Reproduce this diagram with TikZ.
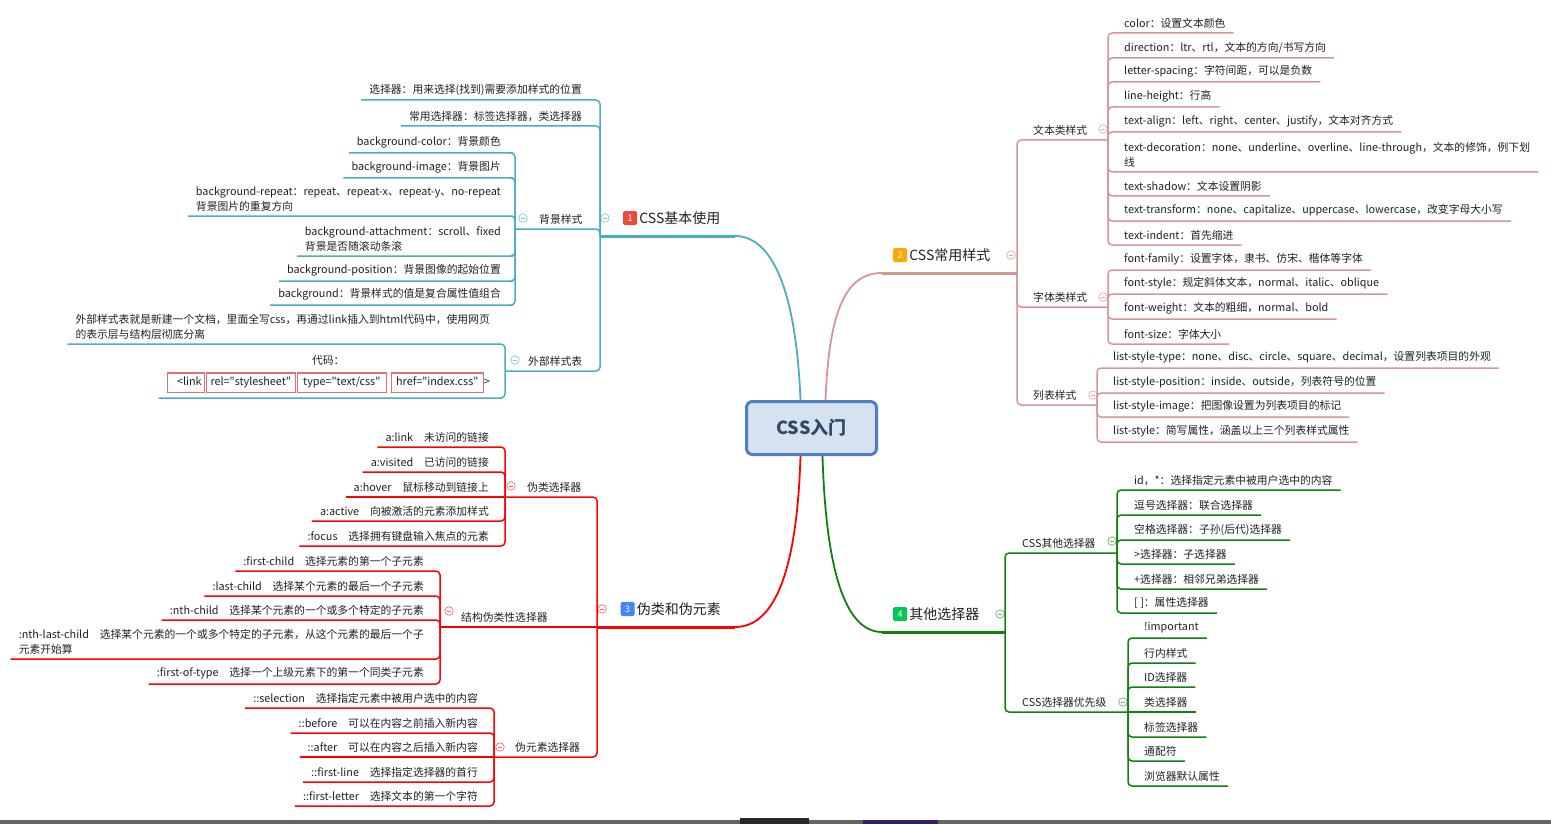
\documentclass[tikz,border=0pt]{standalone}
\usepackage{fontspec}
\setmainfont{Noto Sans CJK SC}
\usetikzlibrary{positioning}

\definecolor{br1}{RGB}{75,172,198}
\definecolor{br2}{RGB}{217,149,148}
\definecolor{br3}{RGB}{255,0,0}
\definecolor{br4}{RGB}{16,128,16}
\definecolor{bd1}{RGB}{232,76,61}
\definecolor{bd2}{RGB}{255,168,0}
\definecolor{bd3}{RGB}{66,133,244}
\definecolor{bd4}{RGB}{0,200,83}
\definecolor{rootfill}{RGB}{214,226,242}
\definecolor{rootline}{RGB}{76,126,196}
\definecolor{roottext}{RGB}{48,72,104}
\definecolor{codered}{RGB}{224,112,112}
\definecolor{inkgray}{RGB}{32,32,32}
\definecolor{bargray}{RGB}{100,100,100}
\definecolor{bardark}{RGB}{40,40,40}
\definecolor{barpurple}{RGB}{58,32,98}

% code boxes: width, alignment, text
\newcommand{\codebox}[3]{{\setlength{\fboxsep}{2pt}\setlength{\fboxrule}{1.2pt}\fcolorbox{codered}{white}{\makebox[#1][#2]{\strut #3}}}}
\newcommand{\qt}{\textquotedbl}

\tikzset{
  leafl/.style={anchor=south east, align=left, inner xsep=8pt, inner ysep=4.5pt, text=inkgray, font=\fontsize{10.8}{14.5}\selectfont},
  leafr/.style={leafl, anchor=south west},
  sublabel/.style={leafr},
  mainlabel/.style={inner sep=1pt, text=inkgray, font=\fontsize{14}{16}\selectfont},
  badge/.style={fill=#1, text=white, minimum size=14pt, inner sep=0pt, rounded corners=1.5pt, font=\fontsize{9}{9}\selectfont},
  collapse/.style={circle, draw=#1, line width=0.7pt, minimum size=8.5pt, inner sep=0pt, fill=white,
    path picture={\draw[#1, line width=0.7pt] ([xshift=2pt]path picture bounding box.west) -- ([xshift=-2pt]path picture bounding box.east);}},
  twig/.style={draw=#1, line width=1.5pt, rounded corners=4pt},
  limb/.style={draw=#1, line width=3pt},
  stem/.style={draw=#1, line width=1.8pt},
  rootbox/.style={draw=rootline, fill=rootfill, line width=3pt, rounded corners=6pt, minimum width=130pt, minimum height=53pt, text=roottext, font=\fontsize{18}{20}\selectfont\bfseries}
}

\begin{document}
\begin{tikzpicture}[x=1pt, y=-1pt]
    \useasboundingbox (0,0) rectangle (1551,824);

    % Root
    \node[rootbox] (root) at (811.5,428) {CSS入门};

    % Main topics
    \node[badge=bd1] (n1) at (630,218) {1};
    \node[mainlabel, right=1pt of n1] (m1) {CSS基本使用};
    \node[badge=bd2] (n2) at (900,255) {2};
    \node[mainlabel, right=1pt of n2] (m2) {CSS常用样式};
    \node[badge=bd3] (n3) at (627.5,609) {3};
    \node[mainlabel, right=1pt of n3] (m3) {伪类和伪元素};
    \node[badge=bd4] (n4) at (900,614) {4};
    \node[mainlabel, right=1pt of n4] (m4) {其他选择器};
    \coordinate (m1j) at (600,236);
    \coordinate (m1e) at (735,236);
    \coordinate (m2j) at (1017,273);
    \coordinate (m2s) at (882,273);
    \coordinate (m3j) at (597,627);
    \coordinate (m3e) at (735,627);
    \coordinate (m4j) at (1005,632);
    \coordinate (m4s) at (882,632);
    \draw[stem=br1] ([xshift=-11pt]root.north) .. controls (796,290) and (772,236) .. (m1e);
    \draw[stem=br2] ([xshift=14pt]root.north) .. controls (829,310) and (846,273) .. (m2s);
    \draw[stem=br3] ([xshift=-11pt]root.south) .. controls (797,570) and (775,627) .. (m3e);
    \draw[stem=br4] ([xshift=11pt]root.south) .. controls (826,570) and (845,632) .. (m4s);
    \draw[limb=br1] (m1j) -- (m1e);
    \draw[limb=br2] (m2s) -- (m2j);
    \draw[limb=br3] (m3j) -- (m3e);
    \draw[limb=br4] (m4s) -- (m4j);
    \node[collapse=br1!70] (m1x) at (605,218) {};
    \node[collapse=br2!80] (m2x) at (1011,255) {};
    \node[collapse=br3!60] (m3x) at (602,609) {};
    \node[collapse=br4!60] (m4x) at (1000,614) {};

    % 1 CSS基本使用
    \node[leafl] (a1) at (590,100) {选择器：用来选择(找到)需要添加样式的位置};
    \node[leafl] (a2) at (590,126) {常用选择器：标签选择器，类选择器};
    \node[sublabel] (a3) at (531,229) {背景样式};
    \coordinate (a3b) at (515,229);
    \node[collapse=br1!70] (a3x) at (523,218) {};
    \node[leafl] (a31) at (509,153) {background-color：背景颜色};
    \node[leafl] (a32) at (509,178) {background-image：背景图片};
    \node[leafl] (a33) at (509,216) {background-repeat：repeat、repeat-x、repeat-y、no-repeat\\背景图片的重复方向};
    \node[leafl] (a34) at (509,256) {background-attachment：scroll、fixed\\背景是否随滚动条滚};
    \node[leafl] (a35) at (509,281) {background-position：背景图像的起始位置};
    \node[leafl] (a36) at (509,305) {background：背景样式的值是复合属性值组合};
    \node[sublabel] (a4) at (520,371) {外部样式表};
    \coordinate (a4b) at (505,371);
    \node[collapse=br1!70] (a4x) at (515,360) {};
    \node[leafl] (a41) at (498,344) {外部样式表就是新建一个文档，里面全写css，再通过link插入到html代码中，使用网页\\的表示层与结构层彻底分离};
    \node[leafl, align=center] (a42) at (498,398) {代码：\\[7pt]\codebox{31.6pt}{r}{<link}\hspace{1pt}\codebox{83.6pt}{c}{rel=\qt stylesheet\qt}\hspace{1pt}\codebox{83.6pt}{c}{type=\qt text/css\qt}\hspace{4pt}\codebox{86.6pt}{c}{href=\qt index.css\qt}>};
    \draw[twig=br1] (m1j) |- (a1.south east) -- (a1.south west);
    \draw[twig=br1] (m1j) |- (a2.south east) -- (a2.south west);
    \draw[twig=br1] (m1j) |- (a3b);
    \draw[twig=br1] (m1j) |- (a4b);
    \draw[twig=br1] (a3b) |- (a31.south east) -- (a31.south west);
    \draw[twig=br1] (a3b) |- (a32.south east) -- (a32.south west);
    \draw[twig=br1] (a3b) |- (a33.south east) -- (a33.south west);
    \draw[twig=br1] (a3b) |- (a34.south east) -- (a34.south west);
    \draw[twig=br1] (a3b) |- (a35.south east) -- (a35.south west);
    \draw[twig=br1] (a3b) |- (a36.south east) -- (a36.south west);
    \draw[twig=br1] (a4b) |- (a41.south east) -- (a41.south west);
    \draw[twig=br1] (a4b) |- (a42.south east) -- (a42.south west);

    % 2 CSS常用样式
    \node[sublabel] (b1) at (1025,140) {文本类样式};
    \coordinate (b1b) at (1108,140);
    \node[collapse=br2!80] (b1x) at (1103,129) {};
    \node[leafr] (b11) at (1116,33) {color：设置文本颜色};
    \node[leafr] (b12) at (1116,58) {direction：ltr、rtl，文本的方向/书写方向};
    \node[leafr] (b13) at (1116,82) {letter-spacing：字符间距，可以是负数};
    \node[leafr] (b14) at (1116,107) {line-height：行高};
    \node[leafr] (b15) at (1116,132) {text-align：left、right、center、justify，文本对齐方式};
    \node[leafr] (b16) at (1116,172) {text-decoration：none、underline、overline、line-through，文本的修饰，例下划\\线};
    \node[leafr] (b17) at (1116,196) {text-shadow：文本设置阴影};
    \node[leafr] (b18) at (1116,221) {text-transform：none、capitalize、uppercase、lowercase，改变字母大小写};
    \node[leafr] (b19) at (1116,245) {text-indent：首先缩进};
    \node[sublabel] (b2) at (1025,307) {字体类样式};
    \coordinate (b2b) at (1108,307);
    \node[collapse=br2!80] (b2x) at (1103,297) {};
    \node[leafr] (b21) at (1116,270) {font-family：设置字体，隶书、仿宋、楷体等字体};
    \node[leafr] (b22) at (1116,294) {font-style：规定斜体文本，normal、italic、oblique};
    \node[leafr] (b23) at (1116,319) {font-weight：文本的粗细，normal、bold};
    \node[leafr] (b24) at (1116,344) {font-size：字体大小};
    \node[sublabel] (b3) at (1025,405) {列表样式};
    \coordinate (b3b) at (1097,405);
    \node[collapse=br2!80] (b3x) at (1093,395) {};
    \node[leafr] (b31) at (1105,368) {list-style-type：none、disc、circle、square、decimal，设置列表项目的外观};
    \node[leafr] (b32) at (1105,393) {list-style-position：inside、outside，列表符号的位置};
    \node[leafr] (b33) at (1105,417) {list-style-image：把图像设置为列表项目的标记};
    \node[leafr] (b34) at (1105,442) {list-style：简写属性，涵盖以上三个列表样式属性};
    \draw[twig=br2] (m2j) |- (b1b);
    \draw[twig=br2] (m2j) |- (b2b);
    \draw[twig=br2] (m2j) |- (b3b);
    \draw[twig=br2] (b1b) |- (b11.south west) -- (b11.south east);
    \draw[twig=br2] (b1b) |- (b12.south west) -- (b12.south east);
    \draw[twig=br2] (b1b) |- (b13.south west) -- (b13.south east);
    \draw[twig=br2] (b1b) |- (b14.south west) -- (b14.south east);
    \draw[twig=br2] (b1b) |- (b15.south west) -- (b15.south east);
    \draw[twig=br2] (b1b) |- (b16.south west) -- (b16.south east);
    \draw[twig=br2] (b1b) |- (b17.south west) -- (b17.south east);
    \draw[twig=br2] (b1b) |- (b18.south west) -- (b18.south east);
    \draw[twig=br2] (b1b) |- (b19.south west) -- (b19.south east);
    \draw[twig=br2] (b2b) |- (b21.south west) -- (b21.south east);
    \draw[twig=br2] (b2b) |- (b22.south west) -- (b22.south east);
    \draw[twig=br2] (b2b) |- (b23.south west) -- (b23.south east);
    \draw[twig=br2] (b2b) |- (b24.south west) -- (b24.south east);
    \draw[twig=br2] (b3b) |- (b31.south west) -- (b31.south east);
    \draw[twig=br2] (b3b) |- (b32.south west) -- (b32.south east);
    \draw[twig=br2] (b3b) |- (b33.south west) -- (b33.south east);
    \draw[twig=br2] (b3b) |- (b34.south west) -- (b34.south east);

    % 3 伪类和伪元素
    \node[sublabel] (d1) at (519,497) {伪类选择器};
    \coordinate (d1b) at (505,497);
    \node[collapse=br3!60] (d1x) at (511,486) {};
    \node[leafl] (d11) at (497,447) {a:link\quad 未访问的链接};
    \node[leafl] (d12) at (497,472) {a:visited\quad 已访问的链接};
    \node[leafl] (d13) at (497,497) {a:hover\quad 鼠标移动到链接上};
    \node[leafl] (d14) at (497,521) {a:active\quad 向被激活的元素添加样式};
    \node[leafl] (d15) at (497,546) {:focus\quad 选择拥有键盘输入焦点的元素};
    \node[sublabel] (d2) at (453,627) {结构伪类性选择器};
    \coordinate (d2b) at (440,627);
    \node[collapse=br3!60] (d2x) at (449,611) {};
    \node[leafl] (d21) at (432,571) {:first-child\quad 选择元素的第一个子元素};
    \node[leafl] (d22) at (432,596) {:last-child\quad 选择某个元素的最后一个子元素};
    \node[leafl] (d23) at (432,620) {:nth-child\quad 选择某个元素的一个或多个特定的子元素};
    \node[leafl] (d24) at (432,659) {:nth-last-child\quad 选择某个元素的一个或多个特定的子元素，从这个元素的最后一个子\\元素开始算};
    \node[leafl] (d25) at (432,684) {:first-of-type\quad 选择一个上级元素下的第一个同类子元素};
    \node[sublabel] (d3) at (507,757) {伪元素选择器};
    \coordinate (d3b) at (494,757);
    \node[collapse=br3!60] (d3x) at (500,747) {};
    \node[leafl] (d31) at (486,708) {::selection\quad 选择指定元素中被用户选中的内容};
    \node[leafl] (d32) at (486,733) {::before\quad 可以在内容之前插入新内容};
    \node[leafl] (d33) at (486,757) {::after\quad 可以在内容之后插入新内容};
    \node[leafl] (d34) at (486,782) {::first-line\quad 选择指定选择器的首行};
    \node[leafl] (d35) at (486,806) {::first-letter\quad 选择文本的第一个字符};
    \draw[twig=br3] (m3j) |- (d1b);
    \draw[twig=br3] (m3j) -- (d2b);
    \draw[twig=br3] (m3j) |- (d3b);
    \draw[twig=br3] (d1b) |- (d11.south east) -- (d11.south west);
    \draw[twig=br3] (d1b) |- (d12.south east) -- (d12.south west);
    \draw[twig=br3] (d1b) -- (d13.south east) -- (d13.south west);
    \draw[twig=br3] (d1b) |- (d14.south east) -- (d14.south west);
    \draw[twig=br3] (d1b) |- (d15.south east) -- (d15.south west);
    \draw[twig=br3] (d2b) |- (d21.south east) -- (d21.south west);
    \draw[twig=br3] (d2b) |- (d22.south east) -- (d22.south west);
    \draw[twig=br3] (d2b) |- (d23.south east) -- (d23.south west);
    \draw[twig=br3] (d2b) |- (d24.south east) -- (d24.south west);
    \draw[twig=br3] (d2b) |- (d25.south east) -- (d25.south west);
    \draw[twig=br3] (d3b) |- (d31.south east) -- (d31.south west);
    \draw[twig=br3] (d3b) |- (d32.south east) -- (d32.south west);
    \draw[twig=br3] (d3b) -- (d33.south east) -- (d33.south west);
    \draw[twig=br3] (d3b) |- (d34.south east) -- (d34.south west);
    \draw[twig=br3] (d3b) |- (d35.south east) -- (d35.south west);

    % 4 其他选择器
    \node[sublabel] (e1) at (1014,553) {CSS其他选择器};
    \coordinate (e1b) at (1117,553);
    \node[collapse=br4!60] (e1x) at (1112,541) {};
    \node[leafr] (e11) at (1126,490) {id，*：选择指定元素中被用户选中的内容};
    \node[leafr] (e12) at (1126,515) {逗号选择器：联合选择器};
    \node[leafr] (e13) at (1126,540) {空格选择器：子孙(后代)选择器};
    \node[leafr] (e14) at (1126,564) {>选择器：子选择器};
    \node[leafr] (e15) at (1126,589) {+选择器：相邻兄弟选择器};
    \node[leafr] (e16) at (1126,613) {[ ]：属性选择器};
    \node[sublabel] (e2) at (1014,712) {CSS选择器优先级};
    \coordinate (e2b) at (1128,712);
    \node[collapse=br4!60] (e2x) at (1123,702) {};
    \node[leafr] (e21) at (1136,638) {!important};
    \node[leafr] (e22) at (1136,663) {行内样式};
    \node[leafr] (e23) at (1136,687) {ID选择器};
    \node[leafr] (e24) at (1136,712) {类选择器};
    \node[leafr] (e25) at (1136,737) {标签选择器};
    \node[leafr] (e26) at (1136,761) {通配符};
    \node[leafr] (e27) at (1136,786) {浏览器默认属性};
    \draw[twig=br4] (m4j) |- (e1b);
    \draw[twig=br4] (m4j) |- (e2b);
    \draw[twig=br4] (e1b) |- (e11.south west) -- (e11.south east);
    \draw[twig=br4] (e1b) |- (e12.south west) -- (e12.south east);
    \draw[twig=br4] (e1b) |- (e13.south west) -- (e13.south east);
    \draw[twig=br4] (e1b) |- (e14.south west) -- (e14.south east);
    \draw[twig=br4] (e1b) |- (e15.south west) -- (e15.south east);
    \draw[twig=br4] (e1b) |- (e16.south west) -- (e16.south east);
    \draw[twig=br4] (e2b) |- (e21.south west) -- (e21.south east);
    \draw[twig=br4] (e2b) |- (e22.south west) -- (e22.south east);
    \draw[twig=br4] (e2b) |- (e23.south west) -- (e23.south east);
    \draw[twig=br4] (e2b) -- (e24.south west) -- (e24.south east);
    \draw[twig=br4] (e2b) |- (e25.south west) -- (e25.south east);
    \draw[twig=br4] (e2b) |- (e26.south west) -- (e26.south east);
    \draw[twig=br4] (e2b) |- (e27.south west) -- (e27.south east);

    % bottom strip
    \fill[bargray] (0,820) rectangle (1551,824);
    \fill[bardark] (740,818) rectangle (809,824);
    \fill[barpurple] (863,820) rectangle (938,824);
\end{tikzpicture}
\end{document}
